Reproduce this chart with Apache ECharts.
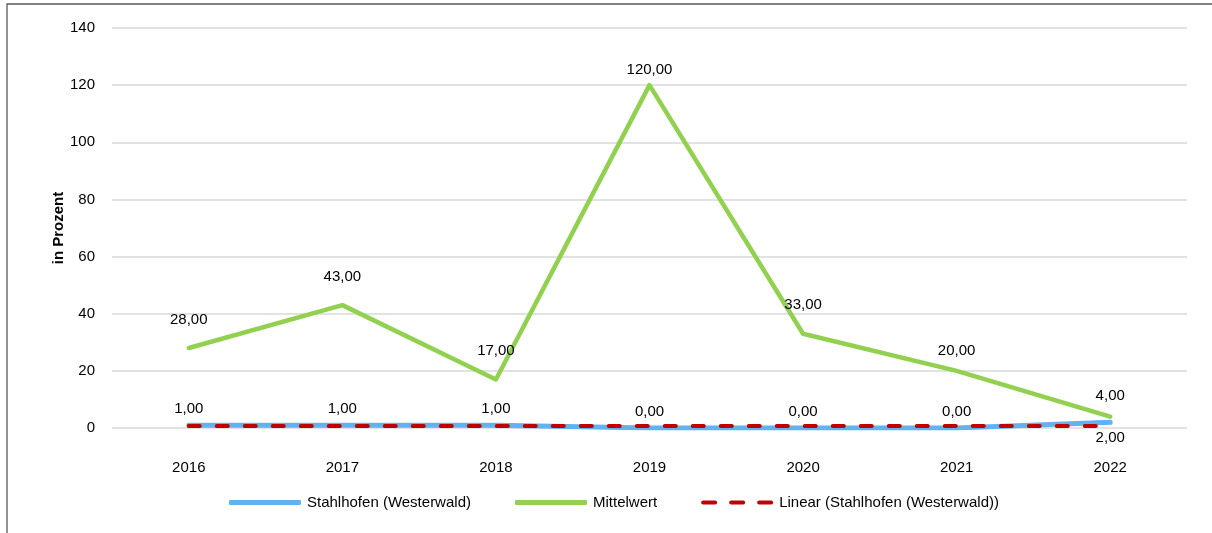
<!DOCTYPE html>
<html>
<head>
<meta charset="utf-8">
<script src="https://cdn.jsdelivr.net/npm/echarts@6/dist/echarts.min.js"></script>
<style>
  html, body { margin: 0; padding: 0; background: #fff; }
  #chart { width: 1212px; height: 533px; }
</style>
</head>
<body>
<div id="chart"></div>
<script>
// Jahre und Messwerte
const years = ['2016', '2017', '2018', '2019', '2020', '2021', '2022'];
const stahlhofen = [1, 1, 1, 0, 0, 0, 2];
const mittelwert = [28, 43, 17, 120, 33, 20, 4];
// lineare Trendlinie der Stahlhofen-Werte
const trendStahlhofen = [0.71, 0.71, 0.71, 0.71, 0.71, 0.71, 0.71];

const seriesNames = ['Stahlhofen (Westerwald)', 'Mittelwert', 'Linear (Stahlhofen (Westerwald))'];

// Abstand der Werte-Beschriftungen zum Punkt
const mittelLabelGap = [21, 21, 21, 8, 21, 12, 13];
const stahlLabelPos = ['top', 'top', 'top', 'top', 'top', 'top', 'bottom'];

const fmt = v => v.toFixed(2).replace('.', ',');
const font = 'Liberation Sans, Arial, sans-serif';
const FS = 15;

const BLUE = '#62b2f0';
const GREEN = '#92d050';
const RED = '#c00000';

// gestricheltes Legendensymbol fuer die Trendlinie
const dashIcon = 'path://M2,0 h12 a2,2 0 0 1 0,4 h-12 a2,2 0 0 1 0,-4 z M30,0 h12 a2,2 0 0 1 0,4 h-12 a2,2 0 0 1 0,-4 z M58,0 h12 a2,2 0 0 1 0,4 h-12 a2,2 0 0 1 0,-4 z';

const chart = echarts.init(document.getElementById('chart'), null, { renderer: 'canvas' });

chart.setOption({
  animation: false,
  backgroundColor: '#ffffff',
  graphic: [{
    type: 'rect',
    shape: { x: 7, y: 4, width: 1230, height: 560 },
    style: { fill: 'none', stroke: '#595959', lineWidth: 1.3 },
    silent: true
  }],
  grid: { left: 112, right: 25, top: 28, bottom: 105 },
  legend: {
    bottom: 23,
    left: 229,
    padding: 0,
    itemWidth: 72,
    itemHeight: 5,
    itemGap: 44,
    textStyle: { fontFamily: font, fontSize: FS, color: '#000', padding: [0, 0, 0, 1] },
    data: [
      { name: seriesNames[0], icon: 'roundRect', itemStyle: { color: BLUE } },
      { name: seriesNames[1], icon: 'roundRect', itemStyle: { color: GREEN } },
      { name: seriesNames[2], icon: dashIcon, itemStyle: { color: RED } }
    ]
  },
  xAxis: {
    type: 'category',
    data: years,
    boundaryGap: true,
    axisLine: { show: false },
    axisTick: { show: false },
    axisLabel: { margin: 32, fontFamily: font, fontSize: FS, color: '#000' }
  },
  yAxis: {
    type: 'value',
    min: 0,
    max: 140,
    interval: 20,
    name: 'in Prozent',
    nameLocation: 'middle',
    nameGap: 46,
    nameMoveOverlap: false,
    nameTextStyle: { fontFamily: font, fontSize: FS, fontWeight: 'bold', color: '#000' },
    axisLine: { show: false },
    axisTick: { show: false },
    axisLabel: { margin: 17, fontFamily: font, fontSize: FS, color: '#000' },
    splitLine: { lineStyle: { color: '#d9d9d9', width: 1.5 } }
  },
  series: [
    {
      name: seriesNames[0],
      type: 'line',
      data: stahlhofen.map((v, i) => ({
        value: v,
        label: { position: stahlLabelPos[i], distance: stahlLabelPos[i] === 'top' ? 9 : 8 }
      })),
      symbol: 'circle',
      symbolSize: 0,
      showSymbol: true,
      z: 2,
      lineStyle: { color: BLUE, width: 5, cap: 'round', join: 'round' },
      itemStyle: { color: BLUE },
      label: {
        show: true,
        formatter: p => fmt(p.value),
        fontFamily: font, fontSize: FS, color: '#000'
      }
    },
    {
      name: seriesNames[1],
      type: 'line',
      data: mittelwert.map((v, i) => ({ value: v, label: { distance: mittelLabelGap[i] } })),
      symbol: 'circle',
      symbolSize: 0,
      showSymbol: true,
      z: 3,
      lineStyle: { color: GREEN, width: 4.5, cap: 'round', join: 'round' },
      itemStyle: { color: GREEN },
      label: {
        show: true,
        position: 'top',
        formatter: p => fmt(p.value),
        fontFamily: font, fontSize: FS, color: '#000'
      }
    },
    {
      name: seriesNames[2],
      type: 'line',
      data: trendStahlhofen,
      symbol: 'none',
      z: 4,
      lineStyle: { color: RED, width: 4, type: [11, 17], cap: 'round' },
      itemStyle: { color: RED }
    }
  ]
});
</script>
</body>
</html>
